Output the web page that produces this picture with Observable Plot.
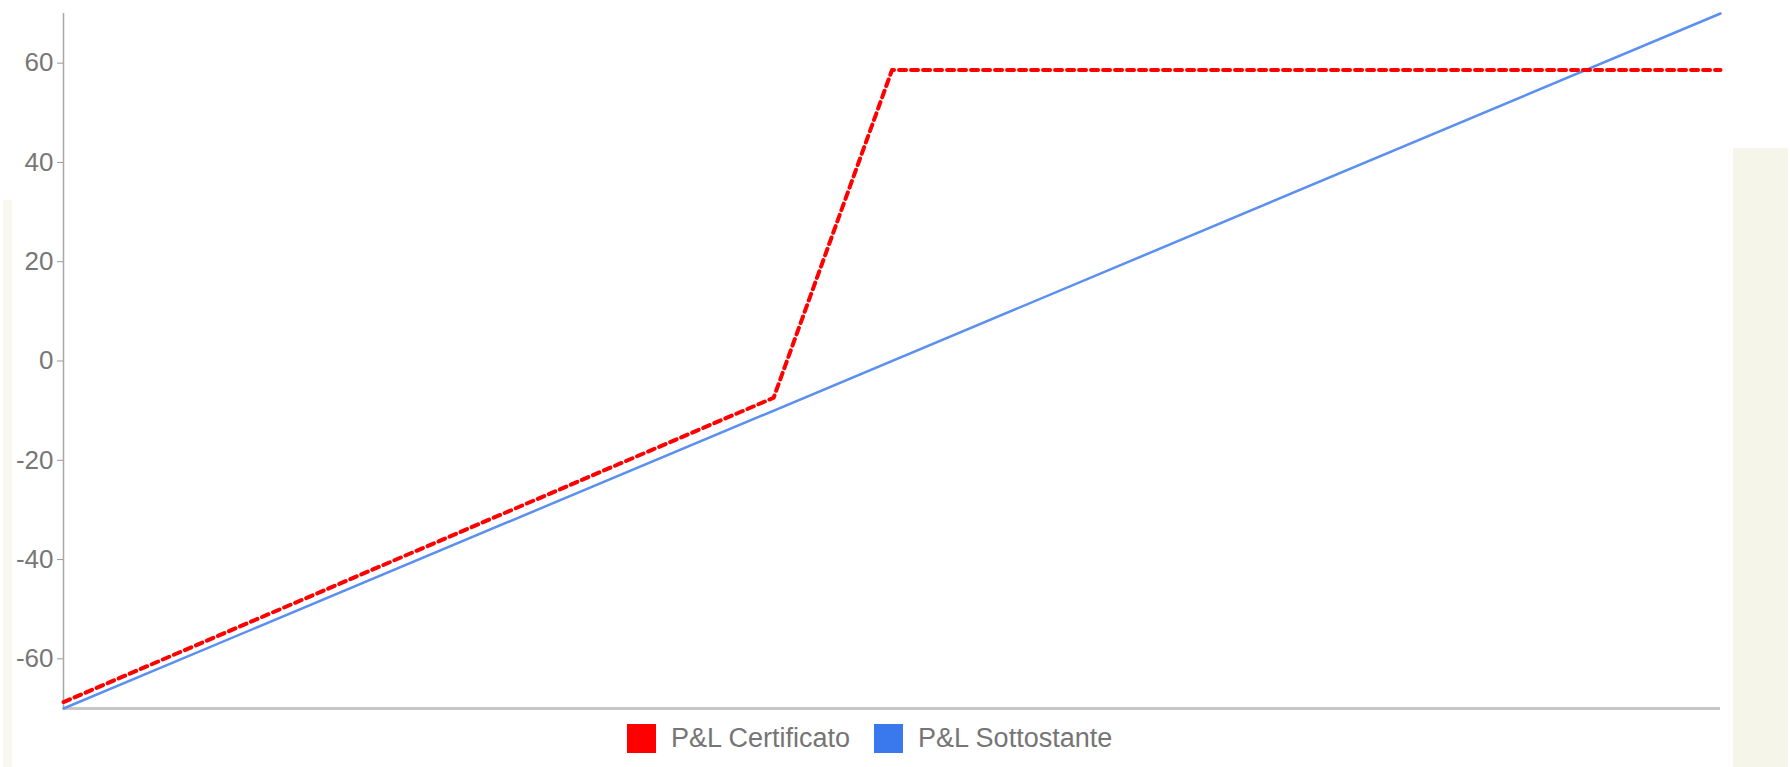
<!DOCTYPE html>
<html>
<head>
<meta charset="utf-8">
<script src="https://cdn.jsdelivr.net/npm/d3@7"></script>
<script src="https://cdn.jsdelivr.net/npm/@observablehq/plot@0.6"></script>
<style>
  html, body { margin: 0; padding: 0; background: #fff; }
  body { width: 1790px; height: 767px; position: relative; overflow: hidden; font-family: "Liberation Sans", Arial, sans-serif; }
  #chart { position: absolute; left: 0; top: 0; }
  .strip-r { position: absolute; left: 1733px; top: 148px; width: 55px; height: 619px; background: #f6f5e9; }
  .strip-l { position: absolute; left: 3px; top: 200px; width: 9px; height: 567px; background: #f8f8f0; }
  #legend { position: absolute; left: 627px; top: 723px; display: flex; align-items: center; font-size: 27px; color: #757575; }
  #legend .sw { width: 29px; height: 29px; display: inline-block; margin-right: 15px; }
  #legend .item { display: flex; align-items: center; margin-right: 24px; }
</style>
</head>
<body>
<div class="strip-l"></div>
<div class="strip-r"></div>
<div id="chart"></div>
<div id="legend"></div>
<script>
// Underlying level (% of initial) — hidden x axis
const priceCert = [30, 90, 100, 170];
const pnlCert = [-68.7, -7.4, 58.6, 58.6];
const priceUnd = [30, 170];
const pnlUnd = [-70, 70];
const yTicks = [-60, -40, -20, 0, 20, 40, 60];
const seriesNames = ["P&L Certificato", "P&L Sottostante"];
const seriesColors = ["#ff0000", "#3a78ee"];

const cert = priceCert.map((x, i) => ({x, y: pnlCert[i]}));
const und = priceUnd.map((x, i) => ({x, y: pnlUnd[i]}));

const chart = Plot.plot({
  width: 1790,
  height: 712,
  marginTop: 13,
  marginBottom: 4,
  marginLeft: 63,
  marginRight: 70,
  style: {fontFamily: "'Liberation Sans', Arial, sans-serif", fontSize: "26px", color: "#777", background: "transparent"},
  x: {domain: [30, 170], axis: null},
  y: {domain: [-70, 70], axis: null},
  marks: [
    Plot.ruleY([-70], {stroke: "#c6c6c6", strokeWidth: 3}),
    Plot.ruleX([30], {stroke: "#a8a8a8", strokeWidth: 1.5}),
    Plot.axisY(yTicks, {tickSize: 6, tickPadding: 4, stroke: "#999", fill: "#777", fontSize: 26, label: null, tickFormat: d => String(d)}),
    Plot.line(und, {x: "x", y: "y", stroke: "#5b8ff0", strokeWidth: 2.5}),
    Plot.line(cert, {x: "x", y: "y", stroke: seriesColors[0], strokeWidth: 4, strokeDasharray: "7,5"})
  ]
});
document.getElementById("chart").appendChild(chart);

const legend = document.getElementById("legend");
seriesNames.forEach((name, i) => {
  const item = document.createElement("div");
  item.className = "item";
  const sw = document.createElement("span");
  sw.className = "sw";
  sw.style.background = seriesColors[i];
  const t = document.createElement("span");
  t.textContent = name;
  item.appendChild(sw);
  item.appendChild(t);
  legend.appendChild(item);
});
</script>
</body>
</html>
